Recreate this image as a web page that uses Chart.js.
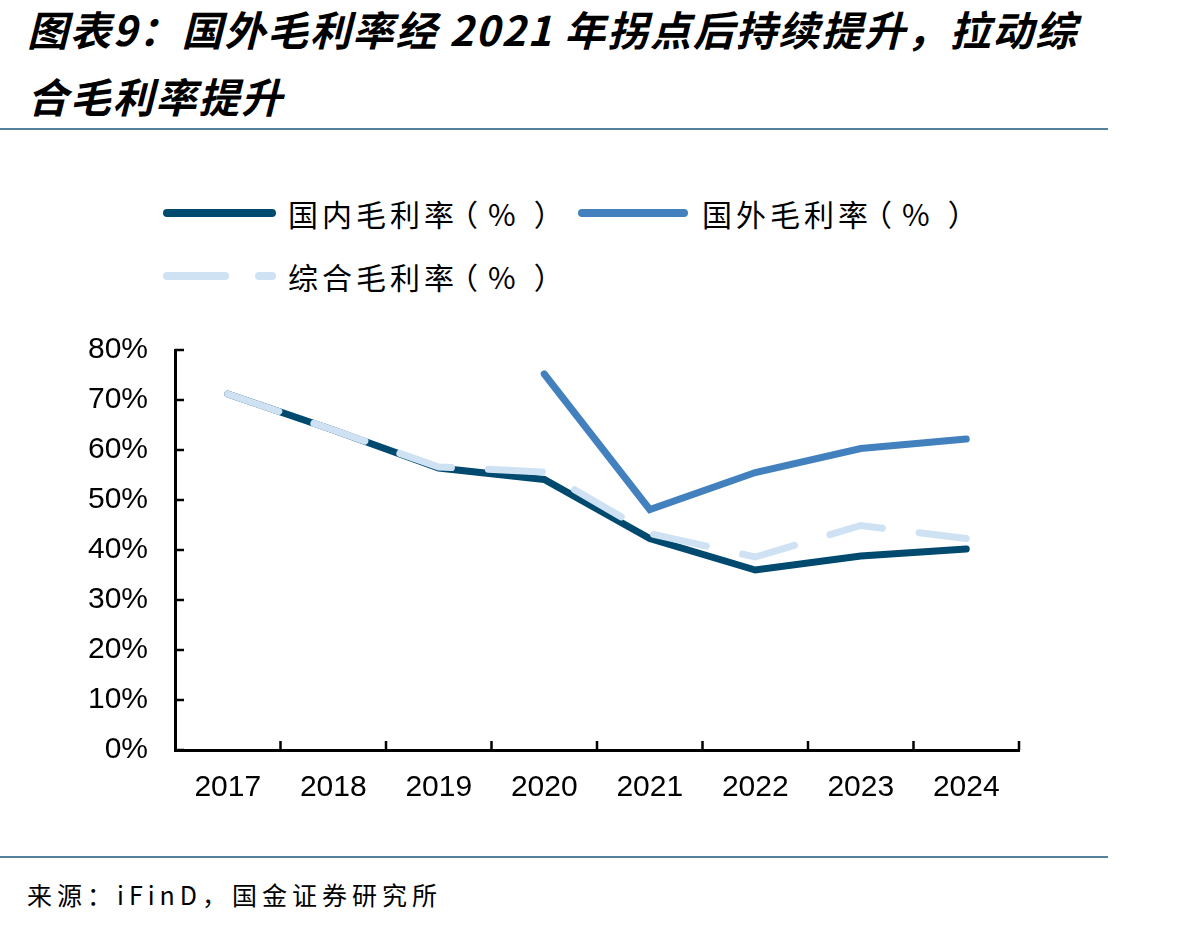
<!DOCTYPE html>
<html>
<head>
<meta charset="utf-8">
<script src="https://cdn.jsdelivr.net/npm/chart.js@4/dist/chart.umd.min.js"></script>
<style>
  html, body { margin: 0; padding: 0; background: #fff; }
  body { width: 1198px; height: 928px; position: relative; overflow: hidden;
         font-family: "Noto Sans CJK SC", "Noto Sans", sans-serif; color: #000; }
  .title { position: absolute; left: 27px; top: -5px; font-size: 41px; font-weight: 700;
           font-style: italic; line-height: 67px; letter-spacing: 1.8px; white-space: nowrap; }
  .rule { position: absolute; left: 0; width: 1108px; height: 2px; background: #55819c; }
  .swatch { position: absolute; height: 8px; border-radius: 4px; }
  .legtext { position: absolute; font-size: 30px; letter-spacing: 4px; line-height: 40px; white-space: nowrap; }
  .lp { margin-left: -10px; }
  .pct { margin: 0 14px 0 6px; }
  .source { position: absolute; left: 27px; top: 875px; font-size: 25px; letter-spacing: 5px;
            line-height: 38px; white-space: nowrap; }
  #wrap { position: absolute; left: 0; top: 305px; width: 1100px; height: 515px; }
</style>
</head>
<body>
<div class="title">图表9：国外毛利率经 2021 年拐点后持续提升，拉动综<br>合毛利率提升</div>
<div class="rule" style="top:128px"></div>

<div class="swatch" style="left:163px; top:209px; width:113px; background:#00496f"></div>
<div class="legtext" style="left:288px; top:193px">国内毛利率<span class="lp">（</span><span class="pct">%</span>）</div>
<div class="swatch" style="left:578px; top:209px; width:110px; background:#4280be"></div>
<div class="legtext" style="left:702px; top:193px">国外毛利率<span class="lp">（</span><span class="pct">%</span>）</div>
<div class="swatch" style="left:163px; top:272px; width:66px; background:#cfe2f3"></div>
<div class="swatch" style="left:255px; top:272px; width:21px; background:#cfe2f3"></div>
<div class="legtext" style="left:288px; top:256px">综合毛利率<span class="lp">（</span><span class="pct">%</span>）</div>

<div id="wrap"><canvas id="c"></canvas></div>

<div class="rule" style="top:856px"></div>
<div class="source">来源：iFinD，国金证券研究所</div>

<script>
const categories = ['2017', '2018', '2019', '2020', '2021', '2022', '2023', '2024'];
const domestic  = [71.2, 64.0, 56.4, 54.1, 42.3, 36.0, 38.8, 40.2];
const foreign   = [null, null, null, 75.2, 48.1, 55.5, 60.3, 62.2];
const composite = [71.2, 64.0, 56.6, 55.6, 43.3, 38.6, 44.9, 42.3];
const yTickValues = [0, 10, 20, 30, 40, 50, 60, 70, 80];
const yTickLabels = ['0%', '10%', '20%', '30%', '40%', '50%', '60%', '70%', '80%'];
const seriesNames = ['国内毛利率（%）', '国外毛利率（%）', '综合毛利率（%）'];

const tickPlugin = {
  id: 'innerTicks',
  afterDraw(chart) {
    const ctx = chart.ctx;
    const xs = chart.scales.x, ys = chart.scales.y;
    const area = chart.chartArea;
    ctx.save();
    ctx.strokeStyle = '#000';
    ctx.lineWidth = 2.5;
    yTickValues.forEach(v => {
      const y = ys.getPixelForValue(v);
      ctx.beginPath();
      ctx.moveTo(area.left, y);
      ctx.lineTo(area.left + 9, y);
      ctx.stroke();
    });
    const n = categories.length;
    for (let i = 1; i <= n; i++) {
      const x = xs.left + i * xs.width / n;
      ctx.beginPath();
      ctx.moveTo(x, area.bottom);
      ctx.lineTo(x, area.bottom - 9);
      ctx.stroke();
    }
    ctx.restore();
  }
};

new Chart(document.getElementById('c'), {
  type: 'line',
  data: {
    labels: categories,
    datasets: [
      { label: seriesNames[0], data: domestic, borderColor: '#00496f', borderWidth: 7,
        borderCapStyle: 'round', pointRadius: 0, tension: 0, order: 2 },
      { label: seriesNames[1], data: foreign, borderColor: '#4280be', borderWidth: 7,
        borderCapStyle: 'round', pointRadius: 0, tension: 0, order: 1 },
      { label: seriesNames[2], data: composite, borderColor: '#cfe2f3', borderWidth: 7,
        borderCapStyle: 'round', borderDash: [54, 37], pointRadius: 0, tension: 0, order: 0 }
    ]
  },
  options: {
    responsive: true,
    maintainAspectRatio: false,
    animation: false,
    layout: { padding: { top: 15, right: 81, left: 0, bottom: 0 } },
    plugins: { legend: { display: false }, tooltip: { enabled: false } },
    scales: {
      x: {
        offset: true,
        grid: { display: true, drawOnChartArea: false, drawTicks: false, color: 'rgba(0,0,0,0)' },
        border: { display: true, color: '#000', width: 3 },
        ticks: { color: '#000', padding: 20, font: { family: 'Liberation Sans, Arial', size: 30 }, maxRotation: 0 },
        afterFit(s) { s.height = 70; }
      },
      y: {
        min: 0, max: 80,
        grid: { display: true, drawOnChartArea: false, drawTicks: false, color: 'rgba(0,0,0,0)' },
        border: { display: true, color: '#000', width: 3 },
        afterBuildTicks(s) { s.ticks = yTickValues.map(v => ({ value: v })); },
        ticks: { color: '#000', padding: 27, font: { family: 'Liberation Sans, Arial', size: 30 },
                 callback: (v) => yTickLabels[yTickValues.indexOf(v)] },
        afterFit(s) { s.width = 175; }
      }
    },
    clip: false
  },
  plugins: [tickPlugin]
});
</script>
</body>
</html>
